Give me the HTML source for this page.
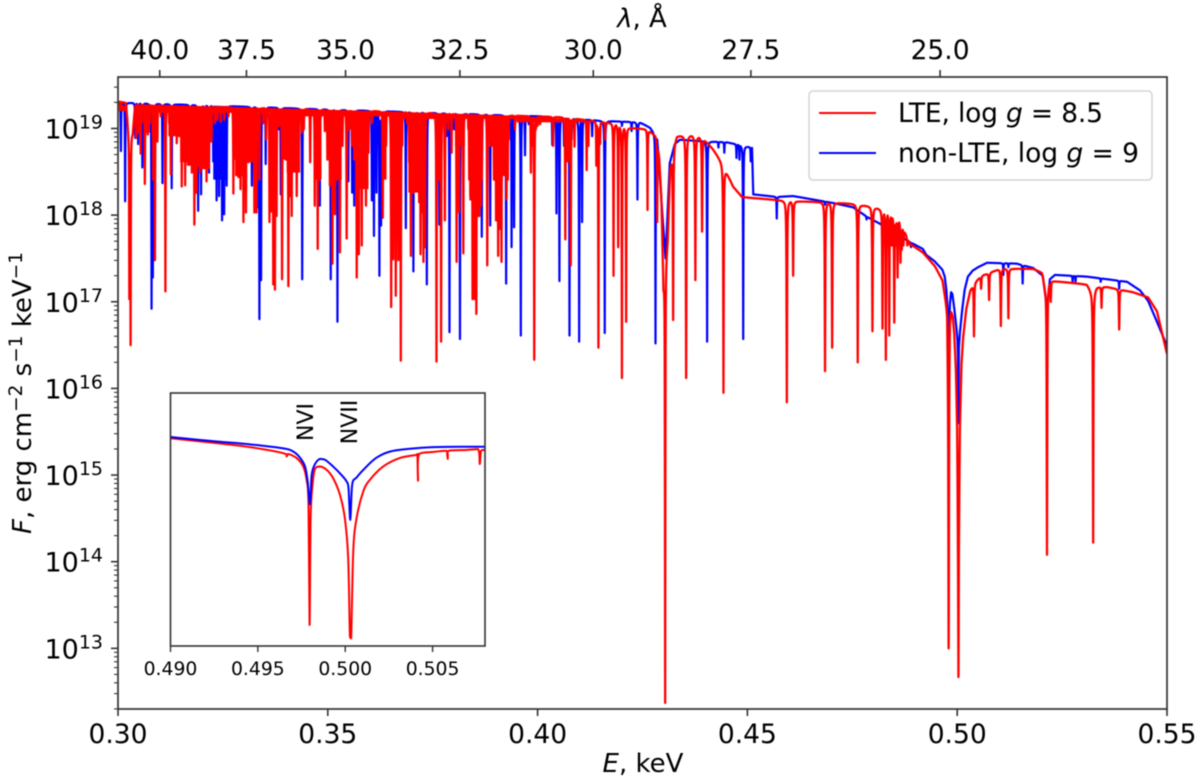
<!DOCTYPE html>
<html>
<head>
<meta charset="utf-8">
<title>Model spectra LTE vs non-LTE</title>
<style>
html,body{margin:0;padding:0;background:#fff;}
svg{display:block;filter:blur(0.4px);}
text{font-family:"DejaVu Sans","Liberation Sans",sans-serif;fill:#000;}
</style>
</head>
<body>
<svg id="chart" xmlns="http://www.w3.org/2000/svg" width="1200" height="784" viewBox="0 0 1200 784">
<defs>
<clipPath id="mainClip"><rect x="118" y="77" width="1049" height="632"/></clipPath>
<clipPath id="insetClip"><rect x="170.5" y="393" width="314.5" height="253"/></clipPath>
</defs>
<rect x="0" y="0" width="1200" height="784" fill="#fff"/>
<g id="mainPlot" clip-path="url(#mainClip)"></g>
<g id="mainAxes"></g>
<rect x="118" y="77" width="1049" height="632" fill="none" stroke="#333" stroke-width="1.7"/>
<text x="642" y="27" font-size="26" text-anchor="middle"><tspan font-style="italic">λ</tspan>, Å</text>
<text x="643" y="772" font-size="26" text-anchor="middle"><tspan font-style="italic">E</tspan>, keV</text>
<text transform="translate(31,393) rotate(-90)" font-size="26" text-anchor="middle"><tspan font-style="italic">F</tspan>, erg cm<tspan dy="-9" font-size="18.5">−2</tspan><tspan dy="9"> s</tspan><tspan dy="-9" font-size="18.5">−1</tspan><tspan dy="9"> keV</tspan><tspan dy="-9" font-size="18.5">−1</tspan></text>
<g>
<rect x="809" y="91" width="343" height="89" rx="4" fill="#fff" fill-opacity="0.8" stroke="#d4d4d4" stroke-width="1.5"/>
<line x1="819" y1="113" x2="876" y2="113" stroke="#ff0000" stroke-width="2"/>
<text x="898" y="122" font-size="26.5" textLength="205" lengthAdjust="spacing">LTE, log <tspan font-style="italic">g</tspan> = 8.5</text>
<line x1="819" y1="153" x2="876" y2="153" stroke="#0000ff" stroke-width="2"/>
<text x="898" y="162" font-size="26.5" textLength="241" lengthAdjust="spacing">non-LTE, log <tspan font-style="italic">g</tspan> = 9</text>
</g>
<g>
<rect x="170.5" y="393" width="314.5" height="253" fill="#fff"/>
<g id="insetPlot" clip-path="url(#insetClip)"></g>
<g id="insetAxes"></g>
<rect x="170.5" y="393" width="314.5" height="253" fill="none" stroke="#333" stroke-width="1.6"/>
<text transform="translate(313,422) rotate(-90)" font-size="22" text-anchor="middle">NVI</text>
<text transform="translate(357,422) rotate(-90)" font-size="22" text-anchor="middle">NVII</text>
</g>
</svg>
<script>
// ---- Axis ticks ----
const xTickLabels = ["0.30", "0.35", "0.40", "0.45", "0.50", "0.55"];
const yTickDecades = [13, 14, 15, 16, 17, 18, 19];
const minorMultipliers = [2, 3, 4, 5, 6, 7, 8, 9];
const topWavelengths = ["40.0", "37.5", "35.0", "32.5", "30.0", "27.5", "25.0"];
const insetTickLabels = ["0.490", "0.495", "0.500", "0.505"];

// ---- LTE (red) pseudo-continuum: energy in eV, log10 F ----
const lteContE = [300,301.9,302.5,303.5,304.1,365.5,386.3,406.1,418,421.3,426.1,428.5,429,429.5,430,431,431.6,432.3,433.2,434.6,437,439.4,441.8,443.9,445.1,446.6,448.7,450.6,460.9,468,475.2,479.2,483.3,486.4,488.7,491.8,494.7,496.5,497.6,497.9,498.02,498.13,498.27,498.55,498.93,499.31,499.7,499.98,500.17,500.46,500.65,501.03,501.41,502.17,503.12,504.1,505.9,510.2,518.1,520.2,520.9,521.9,522.8,530.9,532.1,533.3,535.7,541.9,545.5,547.6,550];
const lteContLogF = [19.31,19.3,18.95,18.95,19.28,19.195,19.16,19.13,19.06,19.01,18.99,18.9,18.65,18.2,17.2,17.72,18.53,18.79,18.91,18.92,18.92,18.89,18.76,18.61,18.49,18.33,18.21,18.2,18.16,18.15,18.13,18.1,18.05,17.93,17.67,17.57,17.41,17.25,16.92,16,15.64,16.47,16.86,16.92,16.84,16.63,16.22,15.64,14.65,14.82,15.64,16.3,16.59,16.92,17.13,17.22,17.3,17.38,17.38,17.34,17.18,17.23,17.24,17.2,17.11,17.17,17.17,17.11,17.05,16.89,16.4];

// ---- LTE absorption lines: centre energy in eV, log10 F at line minimum ----
const lteLineE = [302.7,303.0,303.7,304.3,304.9,305.4,306.4,307.1,307.6,308.4,308.8,309.4,310.2,311.3,312.2,312.6,313.3,314.0,314.6,315.2,315.6,316.0,316.4,317.0,317.6,318.2,318.7,319.1,319.5,320.0,320.5,321.1,321.7,322.3,323.1,323.7,324.5,325.3,326.3,327.5,328.1,328.7,329.2,329.9,330.5,331.1,331.6,332.5,333.0,333.7,334.6,335.3,336.1,336.5,337.0,337.4,337.8,338.4,339.1,339.6,340.0,340.6,341.0,341.4,341.9,342.6,343.1,343.8,344.3,345.8,346.9,347.6,348.1,349.3,349.9,350.5,351.1,351.7,352.2,352.9,353.5,354.5,355.1,355.8,356.3,356.9,357.4,358.1,358.5,359.1,359.7,360.5,363.1,363.9,365.1,365.6,366.2,366.8,367.2,367.4,367.7,368.9,369.4,369.8,370.1,370.4,370.7,371.0,371.3,371.8,372.1,372.5,372.8,373.0,373.2,375.9,376.4,377.0,377.9,378.7,379.5,380.7,381.3,382.3,383.5,383.7,384.0,384.3,384.5,384.8,385.0,385.2,385.4,385.6,385.9,386.1,386.3,386.5,386.7,388.0,388.7,389.3,389.6,389.8,390.1,390.3,390.6,390.9,391.2,391.4,391.7,392.0,392.2,392.6,392.9,393.1,394.6,398.4,398.8,399.2,399.6,400.0,400.6,403.7,406.6,406.9,407.2,407.5,407.9,408.8,411.7,412.1,414.0,414.2,414.5,414.9,416.1,418.1,419.2,420.1,421.1,426.2,428.5,430.4,432.3,435.4,437.6,439.2,444.3,459.4,460.9,468.5,470.2,476.3,479.8,482.2,483.0,483.8,484.4,485.0,485.4,485.8,486.5,486.8,487.2,487.6,488.1,488.8,497.96,500.30,504.0,505.7,507.6,510.4,512.2,521.4,522.3,532.4,534.4,538.6];
const lteLineLogF = [17.03,16.5,19.05,18.89,18.95,18.71,18.36,18.93,19.06,18.41,17.48,18.85,19.14,17.12,19.06,18.47,18.95,18.83,18.91,18.33,18.68,18.345,18.8,18.83,18.49,17.89,18.26,18.57,18.49,18.72,18.74,18.39,18.8,18.85,19.06,19.1,19.08,19.1,19.14,18.25,18.64,18.44,18.3,17.92,18.03,18.61,18.87,18.03,18.03,18.41,19.06,18.87,17.92,18.41,17.2,17.14,17.99,19.03,17.26,18.8,18.64,17.18,18.22,17.99,18.61,18.22,18.72,18.95,18.99,18.61,18.11,17.61,18.41,18.97,18.64,18.34,17.44,18.01,18.41,17.57,18.8,17.73,18.99,18.8,18.64,17.28,17.55,17.65,18.41,18.11,18.72,19.06,17.97,18.8,16.94,17.49,17.07,17.48,18.41,16.32,18.8,19.06,18.61,17.53,18.26,18.26,18.57,18.8,18.41,18.15,17.55,18.03,17.46,17.84,17.63,16.31,18.41,16.54,17.94,18.99,18.72,17.46,18.03,17.56,18.99,18.41,18.18,18.18,17.03,17.57,17.03,17.84,16.86,18.03,17.99,17.99,18.11,18.11,18.41,17.42,18.8,18.8,18.41,18.41,17.94,18.45,17.53,17.84,18.41,17.46,18.57,18.61,18.61,18.18,18.41,18.87,18.99,18.49,18.8,16.33,18.99,19.03,19.05,18.8,17.72,18.63,18.8,18.92,17.42,18.79,18.52,18.8,18.57,18.99,16.47,18.82,18.87,17.3,17.63,16.12,16.77,18.06,17.92,12.37,16.79,16.12,17.25,17.81,15.95,15.84,17.3,16.2,16.47,16.3,16.66,16.69,16.33,16.61,17.65,16.76,17.65,17.28,17.45,17.6,17.65,17.8,17.65,17.65,13.0,12.67,16.6,17.15,17.02,16.72,16.81,14.08,17.0,14.22,16.93,16.68];

// ---- Unresolved LTE line blends: band start / end energy in eV, log10 F of the band floor ----
const lteBlendStartE = [300.2,304.2,340.0,365.0,395.0,303.7,306.7,308.0,312.0,314.8,316.4,319.5,327.9,330.7,336.2,339.0,340.2,346.9,350.5,354.9,356.5,363.2,364.8,365.6,369.2,375.9,380.3,383.7,389.4,406.5];
const lteBlendEndE = [302.0,340.0,365.0,395.0,412.0,306.0,307.6,309.6,314.4,316.4,319.5,321.9,330.7,333.0,337.8,340.2,343.4,348.5,353.3,355.5,359.7,364.0,368.0,367.2,373.2,377.1,382.7,386.7,393.0,407.7];
const lteBlendLogF = [19.2,19.18,19.14,19.11,19.07,19.06,18.95,18.91,18.91,18.61,18.57,18.53,18.45,18.61,18.03,18.64,18.49,18.41,18.41,18.99,18.30,18.41,18.80,18.30,18.26,18.49,18.80,18.22,18.45,18.61];

// ---- non-LTE (blue) pseudo-continuum: energy in eV, log10 F ----
const nltContE = [300,365.5,400.6,414.9,424.4,426.8,428.5,429.7,430.5,430.8,431.5,432.7,433.9,437,445.1,451.1,451.4,457,460.9,468,470.4,475.2,478.5,481.6,488.7,491.8,492.65,494.55,496.46,497.03,497.41,497.7,497.85,497.98,498.08,498.27,498.55,498.84,499.31,499.79,500.08,500.19,500.29,500.4,500.65,501.22,501.79,502.55,503.7,505.03,507.1,514.2,518.1,520.4,521.4,522.1,523.3,530.9,540.5,543.6,545.5,547.6,550];
const nltContLogF = [19.3,19.195,19.14,19.09,19.07,19.01,18.91,18.03,17.5,17.83,18.6,18.82,18.87,18.86,18.84,18.78,18.24,18.21,18.22,18.16,18.14,18.09,17.98,17.9,17.69,17.61,17.54,17.47,17.37,17.29,17.14,16.92,16.55,15.99,16.71,16.98,17.11,17.09,16.92,16.71,16.55,16.38,15.6,16.47,16.65,16.92,17.14,17.29,17.36,17.4,17.45,17.44,17.39,17.3,16.92,17.26,17.31,17.29,17.23,17.13,17.01,16.77,16.49];

// ---- non-LTE absorption lines: centre energy in eV, log10 F at line minimum ----
const nltLineE = [300.7,301.7,304.1,304.8,305.8,308.0,308.3,308.6,310.6,312.8,317.2,319.1,319.8,320.6,321.7,322.7,323.1,323.5,324.1,324.5,324.8,325.3,325.9,331.9,333.4,333.7,334.1,335.2,338.3,338.8,343.9,348.1,350.5,350.7,352.3,354.9,355.8,356.3,360.5,361.0,361.6,362.3,362.7,363.5,368.6,370.4,370.8,371.8,373.6,376.3,376.6,378.3,379.0,380.1,381.5,383.5,386.7,388.7,392.5,393.8,394.4,396.0,397.0,397.9,403.5,404.5,405.2,406.3,407.6,408.1,409.9,410.6,413.0,416.0,420.1,422.4,423.8,428.1,440.4,443.1,444.5,447.4,448.1,449.0,450.8,457.0,468.5,478.4,489.0,511.0,512.2,515.6,527.5,528.2,534.2,538.6];
const nltLineLogF = [18.74,18.16,18.89,18.82,18.55,16.92,17.28,18.03,18.37,18.31,18.62,18.05,18.24,18.62,18.49,18.62,18.49,18.17,18.22,18.49,17.94,18.01,18.34,18.34,18.09,16.8,17.25,18.59,18.99,18.24,17.26,18.11,18.62,17.26,16.77,18.39,18.26,18.11,18.17,17.76,18.26,17.3,17.88,18.87,17.85,17.35,18.57,18.15,17.2,18.99,17.89,18.91,16.65,18.99,16.57,19.01,17.75,17.88,17.21,17.63,17.86,16.61,18.69,19.05,18.81,18.02,17.24,18.8,16.61,18.87,16.54,17.92,18.91,16.64,19.03,18.97,18.18,16.52,16.54,18.78,18.72,18.66,18.64,16.57,18.62,17.96,18.12,17.95,17.63,17.31,17.4,17.21,17.23,17.23,17.23,17.15];

// ---- Unresolved non-LTE line blends ----
const nltBlendStartE = [322.7];
const nltBlendEndE = [325.9];
const nltBlendLogF = [18.41];

// ---- Inset curves: energy in eV, log10 F ----
const insetBlueE = [490,492.65,494.55,496.46,497.03,497.41,497.7,497.85,497.98,498.08,498.27,498.55,498.84,499.31,499.79,500.08,500.19,500.29,500.4,500.65,501.22,501.79,502.55,503.7,505.03,506.93,507.94,508.2];
const insetBlueLogF = [17.65,17.54,17.47,17.37,17.29,17.14,16.92,16.55,15.99,16.71,16.98,17.11,17.09,16.92,16.71,16.55,16.38,15.6,16.47,16.65,16.92,17.14,17.29,17.36,17.4,17.41,17.41,17.41];
const insetRedE = [490,492.65,494.55,496.46,496.65,496.74,497.22,497.6,497.79,497.9,497.96,498.02,498.13,498.27,498.55,498.93,499.31,499.7,499.98,500.17,500.27,500.34,500.46,500.65,501.03,501.41,502.17,503.12,504.08,504.13,504.17,504.23,505.03,505.79,505.87,505.92,506.93,507.6,507.7,507.77,507.94,508.2];
const insetRedLogF = [17.62,17.5,17.4,17.25,17.17,17.23,17.13,16.92,16.59,15.97,13.0,15.64,16.47,16.86,16.92,16.84,16.63,16.22,15.64,14.65,12.71,12.67,14.82,15.64,16.3,16.59,16.92,17.13,17.21,17.23,16.57,17.23,17.28,17.31,17.11,17.31,17.33,17.35,16.98,17.31,17.33,17.33];

// ---- Axis functions ----
const SVGNS = "http://www.w3.org/2000/svg";
const mainX = ev => 118 + (ev / 1000 - 0.30) / 0.25 * 1049;
const mainY = lg => 77 + (19.594 - lg) / 7.294 * 632;
const insetX = ev => 170.5 + (ev - 490) / 18 * 314.5;
const insetY = lg => 393 + (18.74 - lg) / 6.26 * 253;

function contAt(es, fs, e) {
  if (e <= es[0]) return fs[0];
  for (let i = 1; i < es.length; i++) {
    if (e <= es[i]) {
      const t = (e - es[i - 1]) / (es[i] - es[i - 1]);
      return fs[i - 1] + t * (fs[i] - fs[i - 1]);
    }
  }
  return fs[fs.length - 1];
}

// Sample the continuum and carve each listed line into it with a narrow profile.
function spectrumPath(contE, contF, lineE, lineF, widthLow, widthHigh) {
  const order = lineE.map((e, i) => i).sort((a, b) => lineE[a] - lineE[b]);
  const centres = order.map(i => lineE[i]);
  const depths = order.map(i => Math.max(0, contAt(contE, contF, lineE[i]) - lineF[i]));
  const step = 0.05;
  const grid = [];
  for (let e = 300; e <= 550; e += step) grid.push(e);
  const all = grid.concat(centres, contE).sort((a, b) => a - b);
  let out = "";
  let first = 0;
  all.forEach((e, n) => {
    let drop = 0;
    while (first < centres.length && centres[first] < e - 8) first++;
    for (let j = first; j < centres.length && centres[j] < e + 8; j++) {
      const w = centres[j] > 431 ? widthHigh : widthLow;
      const u = (e - centres[j]) / w;
      const d = depths[j] / (1 + u * u);
      if (d > drop) drop = d;
    }
    const lg = contAt(contE, contF, e) - drop;
    out += (n ? "L" : "M") + mainX(e).toFixed(2) + " " + mainY(lg).toFixed(2);
  });
  return out;
}

// Solid bands for unresolved blends, from the continuum down to the band floor.
function blendPath(contE, contF, startE, endE, floorF) {
  return startE.map((s, i) => {
    const e = endE[i];
    return "M" + mainX(s).toFixed(2) + " " + mainY(contAt(contE, contF, s)).toFixed(2) +
      "L" + mainX(e).toFixed(2) + " " + mainY(contAt(contE, contF, e)).toFixed(2) +
      "L" + mainX(e).toFixed(2) + " " + mainY(floorF[i]).toFixed(2) +
      "L" + mainX(s).toFixed(2) + " " + mainY(floorF[i]).toFixed(2) + "Z";
  }).join("");
}

// Smooth curve through the read points for the inset (no overshoot past segment ends).
function curvePath(es, fs) {
  const pts = es.map((e, i) => [insetX(e), insetY(fs[i])]);
  const clamp = (v, a, b) => Math.min(Math.max(a, b), Math.max(Math.min(a, b), v));
  let d = "M" + pts[0][0].toFixed(2) + " " + pts[0][1].toFixed(2);
  for (let i = 0; i < pts.length - 1; i++) {
    const p0 = pts[Math.max(0, i - 1)], p1 = pts[i], p2 = pts[i + 1], p3 = pts[Math.min(pts.length - 1, i + 2)];
    const c1x = p1[0] + (p2[0] - p0[0]) / 6, c1y = clamp(p1[1] + (p2[1] - p0[1]) / 6, p1[1], p2[1]);
    const c2x = p2[0] - (p3[0] - p1[0]) / 6, c2y = clamp(p2[1] - (p3[1] - p1[1]) / 6, p1[1], p2[1]);
    d += "C" + c1x.toFixed(2) + " " + c1y.toFixed(2) + " " + c2x.toFixed(2) + " " + c2y.toFixed(2) + " " + p2[0].toFixed(2) + " " + p2[1].toFixed(2);
  }
  return d;
}

function makeLine(x1, y1, x2, y2, w) {
  const l = document.createElementNS(SVGNS, "line");
  l.setAttribute("x1", x1);
  l.setAttribute("y1", y1);
  l.setAttribute("x2", x2);
  l.setAttribute("y2", y2);
  l.setAttribute("stroke", "#333");
  l.setAttribute("stroke-width", w);
  return l;
}

function makeText(x, y, size, anchor, str) {
  const t = document.createElementNS(SVGNS, "text");
  t.setAttribute("x", x);
  t.setAttribute("y", y);
  t.setAttribute("font-size", size);
  t.setAttribute("text-anchor", anchor);
  t.textContent = str;
  return t;
}

function makeCurve(d, color, w) {
  const p = document.createElementNS(SVGNS, "path");
  p.setAttribute("d", d);
  p.setAttribute("fill", "none");
  p.setAttribute("stroke", color);
  p.setAttribute("stroke-width", w);
  p.setAttribute("stroke-linejoin", "round");
  return p;
}

function makeBand(d, color) {
  const p = document.createElementNS(SVGNS, "path");
  p.setAttribute("d", d);
  p.setAttribute("fill", color);
  return p;
}

const mainPlot = document.getElementById("mainPlot");
const mainAxes = document.getElementById("mainAxes");
const insetPlot = document.getElementById("insetPlot");
const insetAxes = document.getElementById("insetAxes");

// ---- Main spectra ----
const blueBlend = makeBand(blendPath(nltContE, nltContLogF, nltBlendStartE, nltBlendEndE, nltBlendLogF), "#0000ff");


mainPlot.appendChild(blueBlend);

const blueMain = makeCurve(spectrumPath(nltContE, nltContLogF, nltLineE, nltLineLogF, 0.05, 0.05), "#0000ff", 2.2);


mainPlot.appendChild(blueMain);

const redBlend = makeBand(blendPath(lteContE, lteContLogF, lteBlendStartE, lteBlendEndE, lteBlendLogF), "#ff0000");


mainPlot.appendChild(redBlend);

const redMain = makeCurve(spectrumPath(lteContE, lteContLogF, lteLineE, lteLineLogF, 0.05, 0.07), "#ff0000", 2.3);


mainPlot.appendChild(redMain);

// ---- Main axis ticks ----
xTickLabels.forEach(label => {
  const x = mainX(parseFloat(label) * 1000);
  const tick = makeLine(x, 709, x, 716, 1.6);
  
  
  mainAxes.appendChild(tick);
  const txt = makeText(x, 743, 26.5, "middle", label);
  
  
  mainAxes.appendChild(txt);
});

yTickDecades.forEach(dec => {
  const y = mainY(dec);
  const tick = makeLine(111, y, 118, y, 1.6);
  
  
  mainAxes.appendChild(tick);
  const txt = makeText(103, y + 10, 27, "end", "10");
  const sup = document.createElementNS(SVGNS, "tspan");
  sup.setAttribute("dy", "-10");
  sup.setAttribute("font-size", "19");
  sup.textContent = String(dec);
  txt.appendChild(sup);
  
  
  mainAxes.appendChild(txt);
});

for (let dec = 12; dec <= 19; dec++) {
  minorMultipliers.forEach(m => {
    const lg = dec + Math.log10(m);
    if (lg < 12.3 || lg > 19.594) return;
    const y = mainY(lg);
    const tick = makeLine(114, y, 118, y, 1.1);
    
    
    mainAxes.appendChild(tick);
  });
}

topWavelengths.forEach(label => {
  const x = mainX(12398 / parseFloat(label));
  const tick = makeLine(x, 70, x, 77, 1.6);
  
  
  mainAxes.appendChild(tick);
  const txt = makeText(x, 59, 26.5, "middle", label);
  
  
  mainAxes.appendChild(txt);
});

// ---- Inset ----
const redInset = makeCurve(curvePath(insetRedE, insetRedLogF), "#ff0000", 2);


insetPlot.appendChild(redInset);

const blueInset = makeCurve(curvePath(insetBlueE, insetBlueLogF), "#0000ff", 2);


insetPlot.appendChild(blueInset);

insetTickLabels.forEach(label => {
  const x = insetX(parseFloat(label) * 1000);
  const tick = makeLine(x, 646, x, 652, 1.4);
  
  
  insetAxes.appendChild(tick);
  const txt = makeText(x, 675, 18.8, "middle", label);
  
  
  insetAxes.appendChild(txt);
});
</script>
</body>
</html>
